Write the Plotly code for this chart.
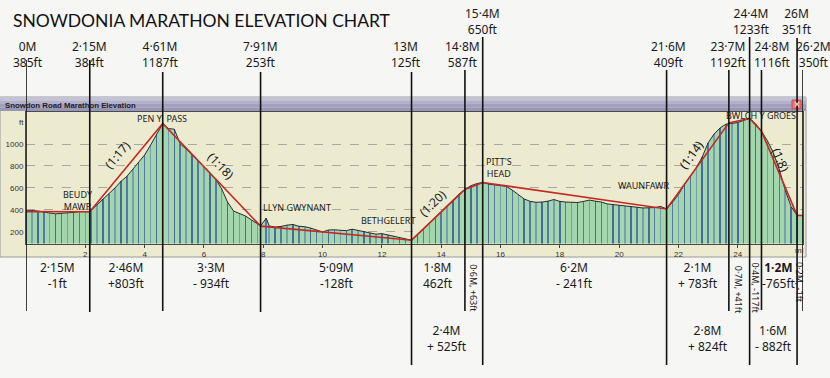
import plotly.graph_objects as go

W, H = 830, 378

# ---------------- data ----------------
profile_miles = [0.0, 0.2, 0.4, 0.6, 0.8, 1.0, 1.2, 1.4, 1.6, 1.8, 2.0, 2.15, 2.2, 2.4, 2.6, 2.8,
                 3.0, 3.2, 3.4, 3.6, 3.8, 4.0, 4.2, 4.4, 4.61, 4.8, 5.0, 5.2, 5.4, 5.6, 5.8,
                 6.0, 6.2, 6.4, 6.6, 6.8, 7.0, 7.2, 7.4, 7.6, 7.8, 7.91, 8.1, 8.2, 8.4, 8.6,
                 8.8, 9.0, 9.2, 9.4, 9.6, 9.8, 10.0, 10.2, 10.4, 10.6, 10.8, 11.0, 11.2, 11.4,
                 11.6, 11.8, 12.0, 12.2, 12.4, 12.6, 12.8, 13.0, 13.2, 13.4, 13.6, 13.8, 14.0,
                 14.2, 14.4, 14.6, 14.8, 15.0, 15.2, 15.4, 15.6, 15.8, 16.0, 16.2, 16.4, 16.6,
                 16.8, 17.0, 17.2, 17.4, 17.6, 17.8, 18.0, 18.2, 18.4, 18.6, 18.8, 19.0, 19.2,
                 19.4, 19.6, 19.8, 20.0, 20.2, 20.4, 20.6, 20.8, 21.0, 21.2, 21.4, 21.6, 21.8,
                 22.0, 22.2, 22.4, 22.6, 22.8, 23.0, 23.2, 23.4, 23.6, 23.8, 24.0, 24.2, 24.4,
                 24.6, 24.8, 25.0, 25.2, 25.4, 25.6, 25.8, 26.0, 26.2]
profile_ft = [392, 395, 390, 378, 372, 365, 368, 372, 378, 385, 382, 384, 398, 450, 500, 545,
              600, 660, 705, 770, 830, 900, 990, 1080, 1185, 1140, 1135, 1000, 955, 900, 850,
              790, 735, 680, 590, 470, 390, 365, 345, 310, 270, 255, 325, 255, 245, 250,
              262, 268, 252, 248, 235, 215, 200, 218, 220, 215, 212, 225, 215, 205,
              195, 180, 185, 172, 160, 150, 140, 125, 175, 228, 280, 330, 385,
              435, 490, 545, 587, 620, 640, 650, 635, 630, 625, 615, 580, 540,
              500, 478, 470, 472, 480, 495, 478, 472, 470, 468, 478, 490, 480,
              472, 455, 450, 445, 440, 432, 425, 418, 420, 422, 432, 410, 470,
              540, 630, 705, 785, 880, 1010, 1090, 1145, 1180, 1190, 1195, 1215, 1232,
              1185, 1115, 1030, 920, 770, 580, 430, 352, 350]

waypoint_miles = [0, 2.15, 4.61, 7.91, 13, 14.8, 15.4, 21.6, 23.7, 24.4, 24.8, 26.0, 26.2]
waypoint_ft = [385, 384, 1187, 253, 125, 587, 650, 409, 1192, 1233, 1116, 351, 350]
waypoint_names = ["0M", "2·15M", "4·61M", "7·91M", "13M", "14·8M", "15·4M", "21·6M",
                  "23·7M", "24·4M", "24·8M", "26M", "26·2M"]

segment_mid_miles = [1.075, 3.38, 6.26, 10.455, 13.9, 18.5, 22.65, 25.4]
segment_texts = ["2·15M<br>-1ft", "2·46M<br>+803ft", "3·3M<br>- 934ft", "5·09M<br>-128ft",
                 "1·8M<br>462ft", "6·2M<br>- 241ft", "2·1M<br>+ 783ft", "<b>1·2M</b><br>-765ft"]
combined_mid_miles = [14.2, 23.0, 25.2]
combined_texts = ["2·4M<br>+ 525ft", "2·8M<br>+ 824ft", "1·6M<br>- 882ft"]
short_mid_miles = [15.1, 24.05, 24.6, 26.1]
short_texts = ["0·6M, +63ft", "0·7M, +41ft", "0·4M, -117ft", "0·2M, -1ft"]

place_names = ["BEUDY<br>MAWR", "PEN Y  PASS", "LLYN GWYNANT", "BETHGELERT",
               "PITT'S<br>HEAD", "WAUNFAWR", "BWLCH Y GROES"]
place_miles = [1.75, 4.6, 9.15, 12.2, 15.95, 20.83, 24.8]
place_ft = [490, 1230, 425, 303, 786, 627, 1262]

gradient_texts = ["(1:17)", "(1:18)", "(1:20)", "(1:14)", "(1:8)"]
gradient_miles = [3.1, 6.55, 13.7, 22.45, 25.45]
gradient_ft = [900, 800, 460, 900, 850]

y_ticks = [200, 400, 600, 800, 1000]
x_ticks = [2, 4, 6, 8, 10, 12, 14, 16, 18, 20, 22, 24]

# ---------------- layout helpers ----------------
def py(p):
    return 1 - p / H

def pxx(p):
    return p / W

label_row_center = [55, 55, 55, 55, 55, 55, 22, 55, 55, 22, 55, 22, 55]
label_xshift = [2, 0, -2, 0, -6, -2, 0, 2, 0, 2, 11, 0, 10]
line_top = [60, 60, 72, 72, 72, 70, 37, 70, 70, 37, 70, 38, 70]
line_bottom = [311, 312, 311, 312, 365, 311, 365, 365, 311, 365, 310, 365, 311]
gradient_angles = [-50, 46, -44, -54, 67]
short_centers = [288, 290, 288, 282]

HAND = "Noto Sans"
INK = "#1a1a1a"

fig = go.Figure()

fig.add_trace(go.Scatter(x=profile_miles, y=profile_ft, mode="lines", line=dict(width=0),
                         fill="tozeroy", fillcolor="#a3d6ad", hoverinfo="skip",
                         showlegend=False, xaxis="x", yaxis="y"))
stripe_cols = ["rgba(70,105,160,0.85)", "rgba(95,135,175,0.7)", "rgba(60,95,150,0.9)"]
fig.add_trace(go.Bar(x=profile_miles, y=profile_ft, width=0.05,
                     marker=dict(color=[stripe_cols[i % 3] for i in range(len(profile_miles))],
                                 line=dict(width=0)),
                     hoverinfo="skip", showlegend=False, xaxis="x", yaxis="y2"))
fig.add_trace(go.Scatter(x=profile_miles, y=profile_ft, mode="lines",
                         line=dict(color="#2b2b2b", width=1), hoverinfo="skip",
                         showlegend=False, xaxis="x", yaxis="y2"))
fig.add_trace(go.Scatter(x=waypoint_miles, y=waypoint_ft, mode="lines",
                         line=dict(color="#c42a22", width=1.6), hoverinfo="skip",
                         showlegend=False, xaxis="x", yaxis="y2"))

shapes = []
shapes.append(dict(type="rect", xref="paper", yref="paper", x0=0, x1=pxx(806), y0=py(257), y1=py(97),
                   fillcolor="#eceacf", line=dict(color="#9a9a9a", width=1), layer="below"))
bar_cols = ["#c4c2d6", "#b3b0cb", "#a29fbf", "#9895b5"]
for i, c in enumerate(bar_cols):
    shapes.append(dict(type="rect", xref="paper", yref="paper", x0=0, x1=pxx(806),
                       y0=py(97 + 3.5 * (i + 1)), y1=py(97 + 3.5 * i), fillcolor=c,
                       line=dict(width=0), layer="below"))
shapes.append(dict(type="rect", xref="paper", yref="paper", x0=pxx(792), x1=pxx(801),
                   y0=py(109), y1=py(100), fillcolor="#e67676", line=dict(color="#c05050", width=1)))
for m, t, b in zip(waypoint_miles, line_top, line_bottom):
    shapes.append(dict(type="line", xref="x", yref="paper", x0=m, x1=m, y0=py(b), y1=py(t),
                       line=dict(color="#111111", width=1.6), layer="above"))

annotations = []

def ann(**kw):
    kw.setdefault("showarrow", False)
    kw.setdefault("xanchor", "center")
    kw.setdefault("yanchor", "middle")
    annotations.append(kw)

ann(text="SNOWDONIA MARATHON ELEVATION CHART", xref="paper", yref="paper",
    x=pxx(11), y=py(20), xanchor="left", font=dict(family="Lato", size=17.5, color="#111111"))
ann(text="<b>Snowdon Road Marathon Elevation</b>", xref="paper", yref="paper",
    x=pxx(3), y=py(105), xanchor="left", font=dict(family="Liberation Sans", size=7.8, color="#1e1e2a"))
ann(text="×", xref="paper", yref="paper", x=pxx(796.5), y=py(104.5),
    font=dict(family="Liberation Sans", size=10, color="white"))
ann(text="ft", xref="paper", yref="paper", x=pxx(21), y=py(122),
    font=dict(family="Liberation Sans", size=8, color="#333"))
ann(text="mi", xref="paper", yref="paper", x=pxx(799), y=py(250),
    font=dict(family="Liberation Sans", size=8, color="#333"))

for name, ft, m, c, xs in zip(waypoint_names, waypoint_ft, waypoint_miles, label_row_center, label_xshift):
    ann(text=f"{name}<br>{ft}ft", xref="x", yref="paper", x=m, y=py(c), xshift=xs,
        font=dict(family=HAND, size=12, color=INK))
for t, m in zip(segment_texts, segment_mid_miles):
    ann(text=t, xref="x", yref="paper", x=m, y=py(275), font=dict(family=HAND, size=12, color=INK))
for t, m in zip(combined_texts, combined_mid_miles):
    ann(text=t, xref="x", yref="paper", x=m, y=py(338), font=dict(family=HAND, size=12, color=INK))
for t, m, c in zip(short_texts, short_mid_miles, short_centers):
    ann(text=t, xref="x", yref="paper", x=m, y=py(c), textangle=90,
        font=dict(family=HAND, size=9, color=INK))
for t, m, f in zip(place_names, place_miles, place_ft):
    ann(text=t, xref="x", yref="y", x=m, y=f, font=dict(family=HAND, size=9, color=INK))
for t, m, f, a in zip(gradient_texts, gradient_miles, gradient_ft, gradient_angles):
    ann(text=t, xref="x", yref="y", x=m, y=f, textangle=a, font=dict(family=HAND, size=12, color=INK))

x_dom = [pxx(26), pxx(803)]
y_dom = [py(243.5), py(112)]
y_rng = [95, 1291]

fig.update_layout(
    width=W, height=H, margin=dict(l=0, r=0, t=0, b=0),
    paper_bgcolor="#f6f6f4", plot_bgcolor="#efefdb",
    barmode="overlay", bargap=0, showlegend=False,
    xaxis=dict(domain=x_dom, range=[0, 26.2], tickvals=x_ticks, ticks="outside", ticklen=3,
               tickcolor="#444", showgrid=False, zeroline=False, showline=True, mirror=True,
               linecolor="#4a4a4a", linewidth=1,
               tickfont=dict(family="Liberation Sans", size=8, color="#333")),
    yaxis=dict(domain=y_dom, range=y_rng, tickvals=y_ticks, ticks="", showgrid=True,
               gridcolor="#a8a8a0", griddash="dash", gridwidth=1, zeroline=False,
               showline=True, mirror=True, linecolor="#4a4a4a", linewidth=1,
               tickfont=dict(family="Liberation Sans", size=8, color="#333")),
    yaxis2=dict(domain=y_dom, range=y_rng, overlaying="y", visible=False),
    shapes=shapes, annotations=annotations,
)

fig.write_html("out.html", config={"displayModeBar": False},
               post_script="document.body.style.margin='0';")
